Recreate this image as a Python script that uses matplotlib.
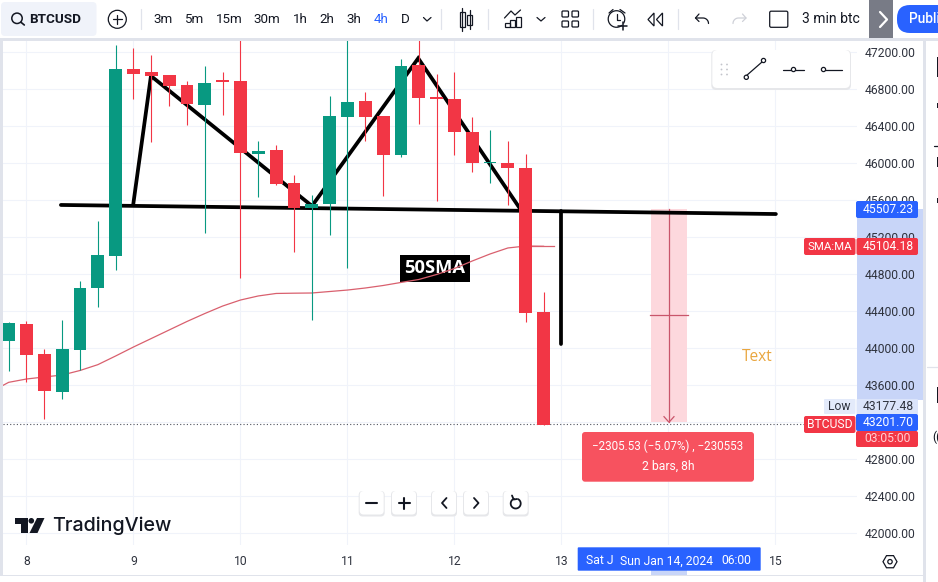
import numpy as np
import matplotlib
matplotlib.use("Agg")
import matplotlib.pyplot as plt
from matplotlib.patches import Rectangle, FancyBboxPatch, Circle, Polygon

W, H = 938, 582
plt.rcParams['font.family'] = ['Roboto', 'DejaVu Sans']

# candles, one every 4h, first one is the last bar of day 7
opens = [44083, 44264, 43939, 43532, 43986, 44656, 45002, 47022, 46989, 46957, 46845,
         46635, 46892, 46892, 46106, 46146, 45789, 45515, 45562, 46506, 46672,
         46513, 46091, 47065, 46715, 46694, 46343, 46000, 46002, 45948, 44394]
highs = [44285, 44296, 43997, 44307, 44729, 45381, 47281, 47249, 47173, 46957, 46895,
         47054, 46989, 47340, 46246, 46203, 45875, 45659, 46730, 47340, 46776,
         46513, 47130, 47340, 46967, 46989, 46506, 46362, 46246, 46102, 44610]
lows = [43759, 43640, 43236, 43453, 43766, 44448, 44848, 46697, 46235, 46621, 46416,
        45251, 46524, 44761, 45640, 45767, 45046, 44307, 45226, 44869, 46243,
        45648, 46073, 46427, 45597, 46091, 45911, 45789, 45551, 44289, 43175]
closes = [44278, 43932, 43542, 43993, 44653, 45010, 47022, 46971, 46946, 46841, 46646,
          46867, 46884, 46116, 46131, 45778, 45515, 45562, 46513, 46665, 46506,
          46091, 47054, 46711, 46694, 46343, 46002, 46012, 45948, 44386, 43175]
sma_values = [43633, 43669, 43691, 43712, 43761, 43824, 43918, 44015, 44107, 44199, 44291,
              44377, 44458, 44523, 44567, 44594, 44597, 44599, 44615, 44631, 44653,
              44680, 44713, 44745, 44799, 44864, 44945, 45021, 45086, 45107, 45104]

price_ticks = [42000, 42400, 42800, 43600, 44000, 44400, 44800, 45200, 45600, 46000, 46400, 46800, 47200]
grid_prices = [42000, 42400, 42800, 43200, 43600, 44000, 44400, 44800, 45200, 45600, 46000, 46400, 46800, 47200]
day_ticks = [1, 7, 13, 19, 25, 31, 37, 43]
day_labels = ['8', '9', '10', '11', '12', '13', '', '15']

# hand drawn lines on the chart (bar index, price)
pattern_x = [6.99, 7.98, 17.01, 22.97, 28.73]
pattern_y = [45562, 46946, 45540, 47137, 45497]
neck_x = [2.93, 43.03]
neck_y = [45551, 45453]
drop_x = [30.96, 30.96]
drop_y = [45486, 44048]
measure_x = [36.03, 38.04]
measure_y = [45507.23, 43201.70]
last_price = 43177.48

UP, DOWN = '#089981', '#f23645'
GRID = '#f0f3fa'
AXTEXT = '#2f333e'
DARK = '#131722'

fig = plt.figure(figsize=(W / 100, H / 100), dpi=100, facecolor='white')

# background, same pixels as the picture
bg = fig.add_axes([0, 0, 1, 1], zorder=0)
bg.set_xlim(0, W)
bg.set_ylim(H, 0)
bg.axis('off')
bg.add_patch(Rectangle((0, 38), W, 3, fc='#e0e3eb', ec='none'))
bg.add_patch(Rectangle((0, 38), 3, 537, fc='#e0e3eb', ec='none'))
bg.add_patch(Rectangle((922.5, 38), 3.5, 544, fc='#e0e3eb', ec='none'))
bg.add_patch(Rectangle((0, 574.5), 923, 1.2, fc='#e0e3eb', ec='none'))
bg.add_patch(Rectangle((856.5, 209), 66, 191, fc='#c8d5f8', ec='none'))
bg.add_patch(Rectangle((651, 570), 36, 5, fc='#c8d5f8', ec='none'))

# chart axes
ax = fig.add_axes([3 / W, 1 - 545 / H, 854 / W, 504 / H], zorder=1, facecolor='none')
ax.set_xlim(-0.318, 47.58)
ax.set_ylim(41874, 47324)
for s in ax.spines.values():
    s.set_visible(False)
ax.hlines(grid_prices, -1, 48, color=GRID, lw=0.8, zorder=0.5)
ax.vlines(day_ticks, 41000, 48000, color=GRID, lw=0.8, zorder=0.5)

ax.yaxis.tick_right()
ax.set_yticks(price_ticks)
ax.set_yticklabels(['%.2f' % p for p in price_ticks], fontsize=8.7, color=AXTEXT)
ax.tick_params(axis='y', length=0, pad=5.6)
ax.set_xticks(day_ticks)
ax.set_xticklabels(day_labels, fontsize=8.7, color=AXTEXT)
ax.tick_params(axis='x', length=0, pad=7.5)

ax.axhline(last_price, color='#50535e', lw=0.8, ls=(0, (1, 2)), zorder=1)

# measure tool
mx = (measure_x[0] + measure_x[1]) / 2
my = 44358
ax.add_patch(Rectangle((measure_x[0], measure_y[1]), measure_x[1] - measure_x[0],
                       measure_y[0] - measure_y[1], fc='#fdd8dd', ec='none', zorder=1.2))
ax.plot([mx, mx], measure_y, color='#c9566b', lw=0.9, zorder=1.3)
ax.plot([measure_x[0] - 0.05, measure_x[1] + 0.05], [my, my], color='#c9566b', lw=0.9, zorder=1.3)
ax.plot([mx - 0.28, mx, mx + 0.28], [measure_y[1] + 60, measure_y[1], measure_y[1] + 60],
        color='#c9566b', lw=0.9, zorder=1.3)

# drawings
ax.plot(neck_x, neck_y, color='black', lw=2.7, solid_capstyle='round', zorder=2)
ax.plot(pattern_x, pattern_y, color='black', lw=2.7, solid_joinstyle='miter', zorder=2)
ax.plot(drop_x, drop_y, color='black', lw=2.7, solid_capstyle='round', zorder=2)

ax.text(23.91, 44864, '50SMA', color='white', fontsize=13.2, fontweight='bold', ha='center', va='center',
        family=['Open Sans', 'DejaVu Sans'], zorder=2.2,
        bbox=dict(fc='black', ec='none', boxstyle='square,pad=0.25'))
ax.plot(np.r_[-0.32, np.arange(len(sma_values))], np.r_[43600, sma_values], color='#d9606e', lw=0.9, zorder=2.5)
ax.plot([29, 30.6], [45104, 45104], color='#d9606e', lw=0.9, zorder=2.5)

# candles
xs = np.arange(len(opens))
o, c = np.array(opens), np.array(closes)
cols = [UP if c[i] >= o[i] else DOWN for i in xs]
ax.vlines(xs, lows, highs, colors=cols, lw=0.8, zorder=3)
body = np.maximum(np.abs(c - o), 14)
ax.bar(xs, body, bottom=np.minimum(o, c), width=0.72, color=cols, zorder=3.2)

ax.text(42.0, 43910, 'Text', color='#e9a63f', fontsize=11.2, ha='center', va='center',
        family=['Open Sans', 'DejaVu Sans'], zorder=3)

# everything from the platform itself, in pixels
ui = fig.add_axes([0, 0, 1, 1], zorder=2, facecolor='none')
ui.set_xlim(0, W)
ui.set_ylim(H, 0)
ui.axis('off')


def box(x0, y0, x1, y1, fc, r=2, z=5, **kw):
    p = FancyBboxPatch((x0 + r, y0 + r), x1 - x0 - 2 * r, y1 - y0 - 2 * r,
                       boxstyle='round,pad=%s,rounding_size=%s' % (r, r), fc=fc, ec='none', zorder=z, **kw)
    ui.add_patch(p)
    return p


def line(xs, ys, color=DARK, lw=0.9, z=6):
    ui.plot(xs, ys, color=color, lw=lw, zorder=z, solid_capstyle='round')


def label(x, y, s, color=DARK, size=8.7, ha='center', weight='normal', z=7, **kw):
    return ui.text(x, y, s, color=color, fontsize=size, ha=ha, va='center', fontweight=weight, zorder=z, **kw)


def shadow_box(x0, y0, x1, y1, r=4):
    box(x0 - 1, y0, x1 + 1, y1 + 2, '#e6e7ea', r=r, z=4)
    box(x0, y0, x1, y1, 'white', r=r, z=5)


# price axis labels
box(856, 201, 918, 218, '#2962ff')
label(888.3, 209.6, '45507.23', 'white')
box(804, 238, 855.5, 255, DOWN)
label(829.5, 246.5, 'SMA:MA', 'white', size=8.2)
box(856.5, 238, 918, 255, DOWN)
label(888.3, 246.5, '45104.18', 'white')
box(824, 399, 855.5, 414, '#e3eafa', r=1)
label(839, 407, 'Low', AXTEXT)
box(856.5, 399, 918, 415, '#dbe4fa', r=1)
label(888.3, 407, '43177.48', AXTEXT)
box(804, 416, 855.5, 433, DOWN)
label(829.5, 424.5, 'BTCUSD', 'white', size=8.7)
box(856, 414, 918, 431, '#2962ff')
label(888.3, 422.7, '43201.70', 'white')
box(856, 431, 918, 447, DOWN)
label(887.5, 438.7, '03:05:00', '#ffd0d4')

# measure result
box(582, 432, 754, 481.7, '#f7525f', r=3)
label(668, 446.5, '\u22122305.53 (\u22125.07%) , \u2212230553', 'white', size=8.4)
label(668, 466.5, '2 bars, 8h', 'white', size=8.7)

# date label on the time axis
box(577.7, 547.3, 760.7, 570.7, '#2962ff', r=1)
label(586, 561, 'Sat J', 'white', ha='left')
label(620, 561, 'Sun Jan 14, 2024', 'white', ha='left')
label(721, 561, '06:00', 'white', ha='left')

# settings hexagon
ang = np.deg2rad(np.arange(0, 360, 60))
ui.add_patch(Polygon(np.c_[890 + 7 * np.cos(ang), 561.7 + 7 * np.sin(ang)], closed=True, fc='none', ec=DARK, lw=0.9))
ui.add_patch(Circle((890, 561.7), 2.2, fc='none', ec=DARK, lw=0.9))

# zoom buttons
for cx in [371.7, 404, 444, 476, 515.7]:
    shadow_box(cx - 12, 491, cx + 12, 514.5)
line([366, 377], [503, 503], lw=1.5)
line([398.5, 409.5], [503, 503], lw=1.5)
line([404, 404], [497.5, 508.5], lw=1.5)
line([446.5, 442, 446.5], [498, 503, 508], lw=1.3)
line([474, 478.5, 474], [498, 503, 508], lw=1.3)
t = np.linspace(np.deg2rad(-60), np.deg2rad(250), 30)
line(515.7 + 5 * np.cos(t), 503.5 + 5 * np.sin(t), lw=1.3)
line([512, 513.7, 517], [495.5, 499.5, 499], lw=1.3)

# TradingView logo
ui.add_patch(Polygon([(15, 518), (28, 518), (28, 533), (21, 533), (21, 524), (15, 524)], fc=DARK, ec='none'))
ui.add_patch(Circle((31.3, 520.8), 2.8, fc=DARK, ec='none'))
ui.add_patch(Polygon([(37, 518), (44.5, 518), (37.5, 533), (29.5, 533)], fc=DARK, ec='none'))
label(52, 526, 'TradingView', DARK, size=14.2, ha='left', weight='medium', family=['Inter', 'DejaVu Sans'])

# line tools palette
shadow_box(712.3, 50, 850, 88, r=5)
for dx in [721.5, 727]:
    for dy in [64.5, 69.5, 74.5]:
        ui.add_patch(Circle((dx, dy), 0.9, fc='#c2c4cb', ec='none', zorder=6))
line([746, 762], [76, 62])
ui.add_patch(Circle((746.3, 77.3), 2.1, fc='white', ec=DARK, lw=0.9, zorder=7))
ui.add_patch(Circle((763.5, 60.5), 2.1, fc='white', ec=DARK, lw=0.9, zorder=7))
line([783, 804], [69.5, 69.5])
ui.add_patch(Circle((793.5, 69.5), 2.1, fc='white', ec=DARK, lw=0.9, zorder=7))
line([823, 842], [69.5, 69.5])
ui.add_patch(Circle((823.5, 69.5), 2.1, fc='white', ec=DARK, lw=0.9, zorder=7))

# top toolbar
box(1, 2, 96.5, 36, '#f0f3fa', r=4)
ui.add_patch(Circle((17, 18.3), 5.2, fc='none', ec=DARK, lw=1.1, zorder=6))
line([21, 24.3], [22.3, 25], lw=1.2)
label(29, 19.3, 'BTCUSD', DARK, size=9.7, ha='left', weight='bold')
ui.add_patch(Circle((117.3, 19.3), 9, fc='none', ec=DARK, lw=0.9, zorder=6))
line([112.5, 122], [19.3, 19.3])
line([117.3, 117.3], [14.5, 24])
for tx, s in zip([163, 194, 229.5, 267, 300, 327, 354, 405], ['3m', '5m', '15m', '30m', '1h', '2h', '3h', 'D']):
    label(tx, 19.3, s, DARK, size=9.6)
label(381, 19.3, '4h', '#2962ff', size=9.6)
for sx in [141, 441, 488, 593, 678]:
    line([sx, sx], [9, 29], color='#e0e3eb', lw=0.9)
line([423.5, 427, 431], [17.5, 21, 17.5])
line([537, 541, 545], [17.5, 21, 17.5])
# candle icon
ui.add_patch(Rectangle((459.5, 12), 5, 15, fc='none', ec=DARK, lw=0.9, zorder=6))
line([462, 462], [8, 31])
ui.add_patch(Rectangle((467, 15), 5, 10, fc='none', ec=DARK, lw=0.9, zorder=6))
line([469.5, 469.5], [10, 29])
# indicators icon
line([504.5, 511, 515, 520.5], [18, 11, 15, 10])
for bx, bt in [(504.5, 23), (510, 20), (515.5, 17)]:
    ui.add_patch(Rectangle((bx, bt), 5, 27 - bt, fc='none', ec=DARK, lw=0.9, zorder=6))
# layouts icon
for gx in [562.5, 572.5]:
    for gy in [11.5, 21.5]:
        ui.add_patch(FancyBboxPatch((gx, gy), 5.5, 5, boxstyle='round,pad=0.5,rounding_size=1', fc='none', ec=DARK, lw=0.9, zorder=6))
# alert icon
t = np.linspace(np.deg2rad(50), np.deg2rad(390), 30)
line(616.5 + 8.3 * np.cos(t), 19 + 8.3 * np.sin(t))
line([616.5, 616.5, 620], [14, 20, 20])
line([609, 613], [13, 9.5])
line([620, 625], [9.5, 13])
line([622.5, 622.5], [21.5, 30], lw=1.1)
line([618, 627], [26, 26], lw=1.1)
# replay icon
ui.add_patch(Polygon([(654, 13), (648, 19.5), (654, 26)], fc='none', ec=DARK, lw=0.9, zorder=6))
ui.add_patch(Polygon([(662.5, 13), (656.5, 19.5), (662.5, 26)], fc='none', ec=DARK, lw=0.9, zorder=6))
# undo / redo
line([699, 695.5, 699], [14, 18, 21.5])
t = np.linspace(np.deg2rad(-90), 0, 12)
line(np.r_[695.5, 703 + 5.5 * np.cos(t)], np.r_[18, 23.5 + 5.5 * np.sin(t)])
line([742.5, 746, 742.5], [14, 18, 21.5], color='#cfd1d8')
t = np.linspace(np.deg2rad(180), np.deg2rad(270), 12)
line(np.r_[738.5 + 5.5 * np.cos(t), 746], np.r_[23.5 + 5.5 * np.sin(t), 18], color='#cfd1d8')
# layout name
ui.add_patch(FancyBboxPatch((770, 11.5), 17.5, 15.5, boxstyle='round,pad=0.3,rounding_size=1.5', fc='none', ec=DARK, lw=0.9, zorder=6))
label(831, 19.3, '3 min btc', DARK, size=10)
# arrow + publish
ui.add_patch(Rectangle((869, 0), 24, 38, fc='#787b86', ec='none', zorder=5))
line([880, 887, 880], [12, 19.5, 27], color='white', lw=1.6)
box(897, 5, 960, 33, '#2962ff', r=13)
label(909, 19.3, 'Publish', 'white', size=9.8, ha='left', weight='medium', clip_on=True)

# bits of the side panel cut by the screenshot
for y0, y1 in [(57, 77), (103, 108), (157, 167), (198, 203), (387, 403)]:
    ui.add_patch(Rectangle((936.5, y0), 2, y1 - y0, fc=DARK, ec='none', zorder=6))
line([934, 938], [146, 146])
line([927, 938], [367, 367], color='#e0e3eb')
label(936, 437, '((', DARK, size=8.7, clip_on=True)

fig.savefig('out.png', dpi=100)
